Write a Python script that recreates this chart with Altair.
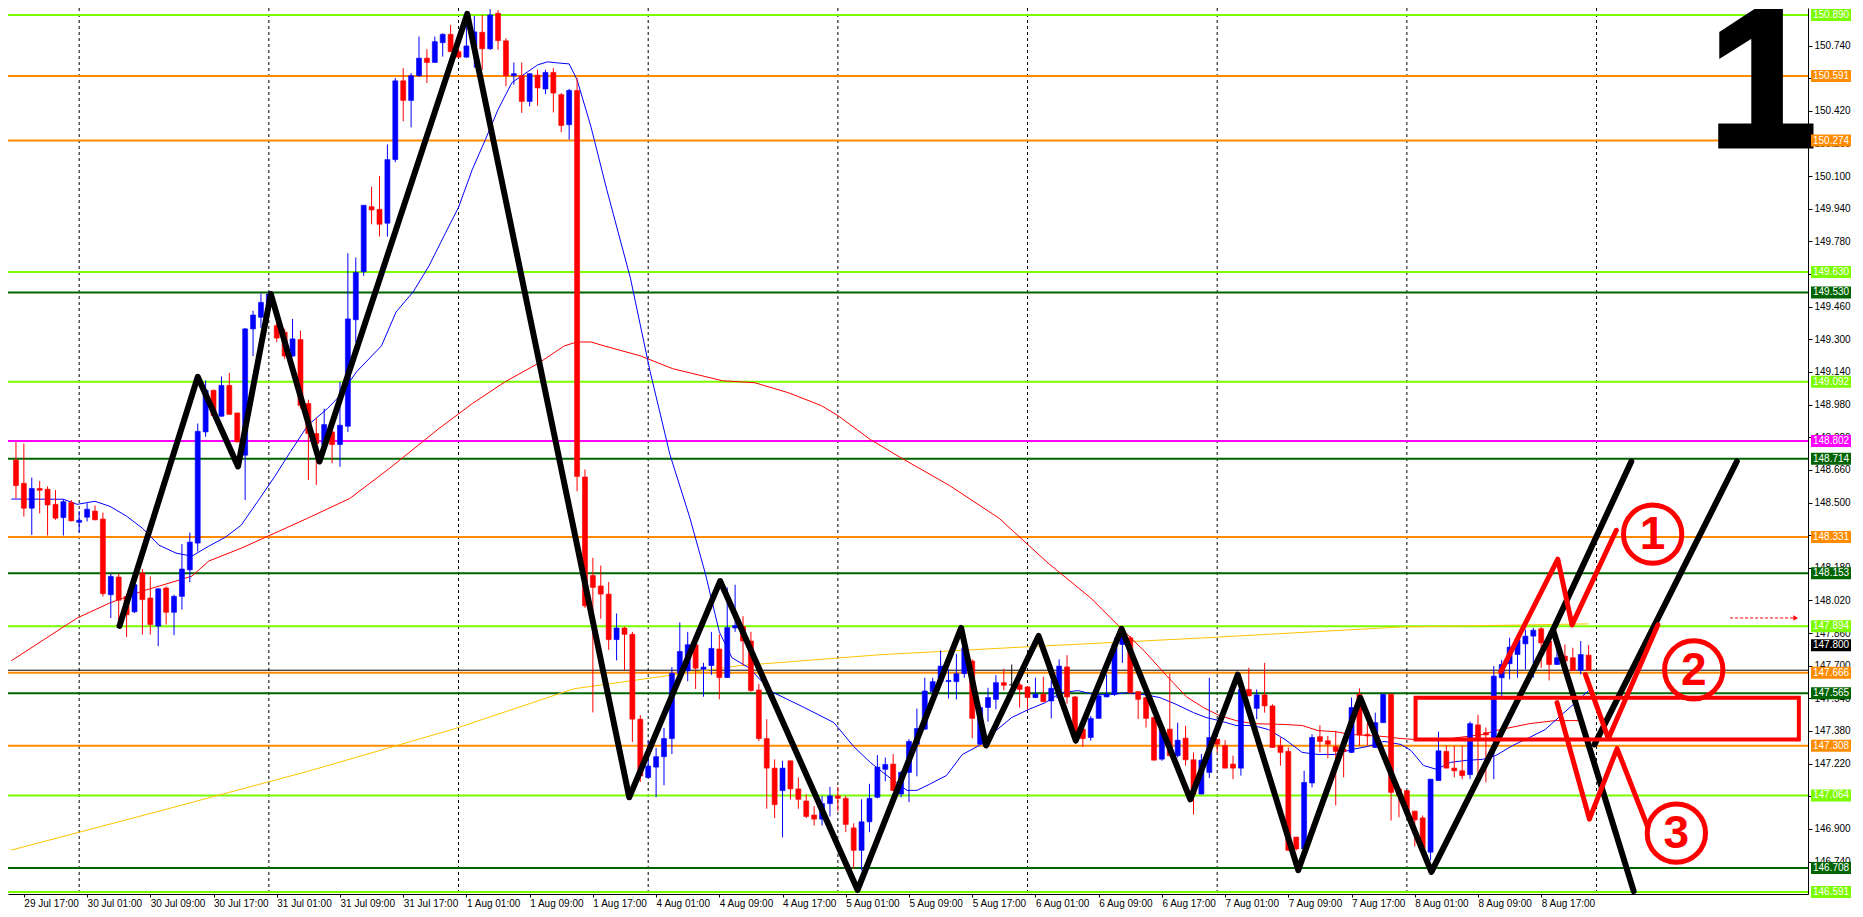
import altair as alt
import pandas as pd

# ---------------- candle data (one entry per hourly bar) ----------------
opens = [
148.708, 148.594, 148.472, 148.569, 148.565, 148.491, 148.426, 148.500, 148.403, 148.428,
148.458, 148.419, 148.048, 148.135, 148.040, 147.964, 148.154, 148.032, 147.894, 148.081,
147.962, 148.040, 148.170, 148.301, 148.846, 149.050, 148.923, 149.074, 148.939, 148.732,
149.351, 149.408, 149.473, 149.367, 149.335, 149.218, 149.299, 148.985, 148.838, 148.784,
148.846, 148.784, 148.874, 149.396, 149.631, 149.950, 149.937, 149.869, 150.181, 150.567,
150.471, 150.592, 150.678, 150.657, 150.754, 150.795, 150.710, 150.683, 150.733, 150.805,
150.724, 150.898, 150.763, 150.592, 150.592, 150.466, 150.595, 150.527, 150.608, 150.499,
150.352, 150.520, 148.625, 148.142, 148.091, 148.051, 147.828, 147.885, 147.854, 147.438,
147.152, 147.203, 147.254, 147.343, 147.663, 147.675, 147.803, 147.683, 147.701, 147.782,
147.642, 147.885, 147.892, 147.821, 147.581, 147.343, 147.198, 147.088, 147.234, 147.096,
147.037, 146.968, 146.948, 147.024, 147.062, 147.050, 146.905, 146.795, 146.935, 147.055,
147.192, 147.218, 147.071, 147.177, 147.315, 147.389, 147.573, 147.622, 147.622, 147.622,
147.661, 147.723, 147.315, 147.495, 147.535, 147.617, 147.606, 147.606, 147.596, 147.544,
147.560, 147.527, 147.544, 147.694, 147.547, 147.389, 147.348, 147.442, 147.547, 147.560,
147.804, 147.837, 147.573, 147.544, 147.446, 147.242, 147.389, 147.259, 147.345, 147.239,
147.071, 147.177, 147.340, 147.308, 147.218, 147.198, 147.584, 147.491, 147.557, 147.503,
147.308, 147.280, 146.860, 146.802, 147.125, 147.352, 147.332, 147.303, 147.291, 147.275,
147.560, 147.364, 147.299, 147.421, 147.560, 147.096, 147.088, 146.987, 146.954, 146.786,
147.137, 147.280, 147.198, 147.185, 147.166, 147.410, 147.372, 147.332, 147.641, 147.710,
147.755, 147.807, 147.845, 147.881, 147.821, 147.706, 147.747, 147.739, 147.677, 147.752,
]
highs = [
148.797, 148.789, 148.622, 148.605, 148.579, 148.561, 148.516, 148.512, 148.458, 148.496,
148.485, 148.451, 148.151, 148.151, 148.052, 148.140, 148.174, 148.138, 148.081, 148.089,
148.048, 148.296, 148.353, 148.887, 149.098, 149.053, 149.118, 149.135, 148.939, 149.356,
149.440, 149.525, 149.533, 149.400, 149.351, 149.400, 149.343, 149.004, 148.916, 148.960,
148.872, 149.091, 149.722, 149.701, 149.957, 150.048, 150.100, 150.255, 150.581, 150.629,
150.605, 150.784, 150.722, 150.784, 150.800, 150.841, 150.763, 150.895, 150.885, 150.890,
150.918, 150.914, 150.776, 150.657, 150.657, 150.605, 150.621, 150.621, 150.629, 150.507,
150.527, 150.581, 148.662, 148.229, 148.191, 148.110, 147.956, 147.892, 147.866, 147.458,
147.331, 147.297, 147.395, 147.693, 147.912, 147.866, 147.828, 147.714, 147.866, 147.854,
148.084, 148.097, 147.943, 147.866, 147.611, 147.438, 147.241, 147.234, 147.234, 147.152,
147.070, 147.012, 147.062, 147.106, 147.106, 147.062, 146.928, 147.045, 147.121, 147.262,
147.250, 147.267, 147.185, 147.340, 147.490, 147.641, 147.641, 147.775, 147.682, 147.758,
147.837, 147.731, 147.503, 147.592, 147.654, 147.685, 147.706, 147.617, 147.601, 147.641,
147.646, 147.628, 147.731, 147.752, 147.552, 147.413, 147.454, 147.560, 147.657, 147.837,
147.885, 147.845, 147.576, 147.547, 147.449, 147.413, 147.661, 147.421, 147.405, 147.275,
147.267, 147.641, 147.340, 147.335, 147.259, 147.601, 147.690, 147.584, 147.714, 147.511,
147.348, 147.299, 146.860, 147.185, 147.364, 147.408, 147.356, 147.381, 147.315, 147.544,
147.589, 147.421, 147.470, 147.560, 147.560, 147.104, 147.088, 146.990, 146.966, 147.144,
147.377, 147.308, 147.308, 147.308, 147.426, 147.459, 147.397, 147.698, 147.729, 147.837,
147.856, 147.877, 147.885, 147.889, 147.869, 147.812, 147.804, 147.788, 147.821, 147.801,
]
lows = [
148.520, 148.431, 148.341, 148.447, 148.338, 148.415, 148.338, 148.408, 148.354, 148.407,
148.413, 148.040, 147.934, 147.885, 147.840, 147.959, 147.853, 147.853, 147.796, 147.902,
147.850, 147.975, 148.109, 148.260, 148.822, 148.926, 148.920, 148.931, 148.794, 148.512,
149.218, 149.356, 149.458, 149.286, 149.204, 149.214, 148.960, 148.610, 148.586, 148.779,
148.692, 148.675, 148.846, 149.286, 149.611, 149.864, 149.804, 149.804, 150.168, 150.369,
150.339, 150.587, 150.556, 150.655, 150.686, 150.709, 150.680, 150.680, 150.631, 150.621,
150.719, 150.719, 150.540, 150.548, 150.410, 150.442, 150.445, 150.502, 150.412, 150.315,
150.279, 148.555, 147.983, 147.471, 147.930, 147.778, 147.726, 147.675, 147.326, 147.130,
147.148, 147.055, 147.114, 147.267, 147.661, 147.624, 147.586, 147.548, 147.655, 147.535,
147.641, 147.866, 147.701, 147.573, 147.331, 146.999, 146.953, 146.859, 147.045, 146.999,
146.953, 146.917, 146.917, 146.961, 146.986, 146.884, 146.705, 146.697, 146.884, 147.050,
147.133, 147.087, 147.055, 147.031, 147.158, 147.387, 147.535, 147.606, 147.540, 147.535,
147.641, 147.345, 147.314, 147.426, 147.486, 147.579, 147.584, 147.495, 147.486, 147.541,
147.521, 147.442, 147.541, 147.514, 147.332, 147.303, 147.332, 147.441, 147.546, 147.552,
147.714, 147.565, 147.438, 147.397, 147.236, 147.234, 147.258, 147.250, 147.210, 146.971,
147.069, 147.149, 147.275, 147.197, 147.144, 147.161, 147.551, 147.438, 147.470, 147.297,
147.210, 146.794, 146.795, 146.801, 147.104, 147.275, 147.247, 147.015, 147.153, 147.272,
147.308, 147.308, 147.297, 147.419, 146.941, 146.957, 146.989, 146.814, 146.801, 146.746,
147.136, 147.197, 147.153, 147.144, 147.144, 147.128, 147.128, 147.144, 147.544, 147.633,
147.641, 147.682, 147.641, 147.690, 147.628, 147.705, 147.650, 147.675, 147.657, 147.675,
]
closes = [
148.583, 148.472, 148.569, 148.560, 148.488, 148.423, 148.504, 148.410, 148.413, 148.467,
148.415, 148.053, 148.138, 148.021, 147.950, 148.097, 148.024, 147.902, 148.077, 147.962,
148.040, 148.174, 148.306, 148.849, 149.050, 148.927, 149.074, 148.932, 148.797, 149.351,
149.419, 149.481, 149.522, 149.306, 149.218, 149.302, 148.976, 148.838, 148.789, 148.882,
148.784, 148.879, 149.400, 149.628, 149.957, 149.934, 149.864, 150.181, 150.567, 150.471,
150.592, 150.678, 150.657, 150.759, 150.795, 150.710, 150.683, 150.738, 150.807, 150.724,
150.890, 150.764, 150.592, 150.602, 150.466, 150.602, 150.532, 150.608, 150.507, 150.348,
150.520, 148.628, 147.994, 148.084, 148.051, 147.828, 147.885, 147.854, 147.438, 147.160,
147.208, 147.254, 147.343, 147.663, 147.770, 147.803, 147.688, 147.693, 147.785, 147.642,
147.887, 147.897, 147.821, 147.578, 147.343, 147.198, 147.019, 147.198, 147.096, 147.045,
146.961, 146.948, 147.024, 147.062, 147.050, 146.922, 146.795, 146.935, 147.050, 147.203,
147.216, 147.088, 147.177, 147.329, 147.392, 147.576, 147.622, 147.698, 147.628, 147.661,
147.788, 147.442, 147.495, 147.544, 147.617, 147.604, 147.606, 147.584, 147.544, 147.560,
147.524, 147.589, 147.698, 147.547, 147.348, 147.343, 147.442, 147.552, 147.560, 147.804,
147.861, 147.568, 147.535, 147.442, 147.237, 147.397, 147.259, 147.335, 147.239, 147.071,
147.237, 147.348, 147.315, 147.198, 147.198, 147.584, 147.552, 147.557, 147.503, 147.299,
147.275, 146.795, 146.802, 147.128, 147.348, 147.329, 147.315, 147.280, 147.280, 147.495,
147.361, 147.356, 147.421, 147.560, 147.079, 147.063, 146.990, 146.944, 146.802, 147.144,
147.283, 147.198, 147.185, 147.161, 147.416, 147.348, 147.361, 147.649, 147.706, 147.791,
147.828, 147.845, 147.874, 147.812, 147.706, 147.739, 147.723, 147.677, 147.755, 147.677,
]

# ---------------- moving averages ----------------
ma_fast_x = [-0.6, 6, 7.75, 10, 11.9, 14, 16, 18.1, 20.25, 22.25, 24.4, 26.5, 28.5, 30.6, 32.75,
             34.75, 36.9, 39.4, 41, 43.1, 46.25, 48.1, 50.25, 52.25, 54.4, 56, 57.75, 59.4, 61,
             62.75, 64.4, 66, 67.25, 68.5, 70, 71, 72.75, 74.75, 77.75, 80.25, 82.75, 85.25,
             87.25, 89, 90.6, 92.75, 95.6, 99.75, 103.5, 106, 108.1, 111, 112.75, 114, 115.6,
             117.75, 119.75, 121.9, 124, 126, 128.1, 130.25, 132.25, 134.4, 136.5, 138.5, 140.6,
             142.75, 144.75, 146.9, 149, 150.6, 152.25, 154.4, 156.5, 158.5, 160.6, 162.75,
             164.75, 166.9, 169, 171, 173.1, 175.25, 176.5, 178.1, 179.75, 181.5, 183.5, 185.6,
             187.25, 189.4, 191.5, 193.5, 195.6, 197.75, 199]
ma_fast_y = [148.517, 148.516, 148.491, 148.506, 148.481, 148.433, 148.374, 148.291, 148.252, 148.237,
             148.286, 148.330, 148.389, 148.506, 148.628, 148.750, 148.877, 148.960, 149.024, 149.141,
             149.268, 149.434, 149.532, 149.659, 149.825, 149.947, 150.133, 150.279, 150.426, 150.558,
             150.602, 150.645, 150.660, 150.655, 150.650, 150.572, 150.343, 150.035, 149.600, 149.141,
             148.735, 148.428, 148.149, 147.866, 147.739, 147.690, 147.573, 147.495, 147.421, 147.304,
             147.226, 147.138, 147.089, 147.089, 147.119, 147.162, 147.265, 147.309, 147.382, 147.446,
             147.485, 147.519, 147.568, 147.578, 147.558, 147.558, 147.568, 147.558, 147.544, 147.509,
             147.470, 147.446, 147.431, 147.407, 147.407, 147.387, 147.338, 147.275, 147.265, 147.265,
             147.289, 147.304, 147.329, 147.314, 147.285, 147.211, 147.192, 147.226, 147.236, 147.241,
             147.260, 147.309, 147.348, 147.387, 147.460, 147.534, 147.578]
ma_mid_x = [-0.6, 3.5, 7.75, 11.9, 16, 20.25, 22.25, 24.4, 28.5, 32.75, 36.9, 42.25, 47.25, 53.5,
            57.75, 61.9, 66, 69.4, 71, 72.75, 74.4, 79, 83.1, 89.4, 93.5, 97.75, 101.9, 104, 108.1,
            111.9, 118.1, 124.4, 130.6, 136, 139.4, 142.75, 145.6, 148.1, 150.25, 152.25, 154.4,
            156.5, 160.6, 162.75, 164.75, 166.9, 169, 171, 173.1, 175.25, 177.25, 181.5, 185.6,
            187.25, 191.5, 194.75, 198.4]
ma_mid_y = [147.724, 147.827, 147.934, 148.008, 148.066, 148.115, 148.139, 148.213, 148.276, 148.350,
            148.423, 148.520, 148.667, 148.862, 148.985, 149.092, 149.180, 149.268, 149.287, 149.287,
            149.268, 149.219, 149.156, 149.097, 149.087, 149.038, 148.975, 148.926, 148.809, 148.721,
            148.584, 148.423, 148.203, 148.032, 147.900, 147.773, 147.651, 147.548, 147.495, 147.456,
            147.431, 147.416, 147.412, 147.407, 147.382, 147.377, 147.363, 147.358, 147.353, 147.343,
            147.338, 147.343, 147.363, 147.382, 147.416, 147.431, 147.431]
ma_slow_x = [-0.6, 18.1, 36.9, 55.6, 70.6, 91.5, 109.4, 128.1, 150.6, 175.25, 199]
ma_slow_y = [146.796, 146.987, 147.182, 147.392, 147.587, 147.700, 147.754, 147.793, 147.837, 147.890, 147.905]

# ---------------- zigzag & hand-drawn annotations ----------------
zz_x = [13.1, 23, 28.1, 32.25, 38.4, 57.1, 77.6, 89.1, 106.5, 119.6, 122.75, 129.4, 134.1,
        139.9, 148.6, 154.6, 162.25, 170.1, 179.1, 194.5, 204.7]
zz_y = [147.895, 149.116, 148.677, 149.522, 148.701, 150.895, 147.055, 148.115, 146.601, 147.885,
        147.309, 147.846, 147.333, 147.881, 147.045, 147.656, 146.698, 147.543, 146.689, 147.876,
        146.595]
proj_seg = ["a", "a", "c", "c"]
proj_x = [194.5, 204.4, 199.75, 217.75]
proj_y = [147.876, 148.701, 147.314, 148.701]

red_seg = ["r1", "r1", "r1", "r1", "r2", "r2", "r2", "r3", "r3", "r3", "r3"]
red_x = [187.9, 195.1, 196.9, 202.5, 198.6, 201.5, 207.75, 195.0, 199.1, 202.6, 206.5]
red_y = [147.671, 148.222, 147.900, 148.364, 147.656, 147.343, 147.900, 147.519, 146.948,
         147.294, 146.908]
circle_labels = ["1", "2", "3"]
circle_x = [207.1, 212.3, 210.1]
circle_y = [148.345, 147.680, 146.879]
box_x = [177.1, 225.6]
box_y = [147.338, 147.543]
arrow_x = [216.9, 225.2]
arrow_y = 147.934

# ---------------- horizontal levels ----------------
level_prices = [150.890, 150.591, 150.274, 149.630, 149.530, 149.092, 148.802, 148.714, 148.331,
                148.153, 147.894, 147.666, 147.565, 147.308, 147.064, 146.708, 146.591]
level_kinds = ["lime", "orange", "orange", "lime", "dkgreen", "lime", "magenta", "dkgreen", "orange",
               "dkgreen", "lime", "orange", "dkgreen", "orange", "lime", "dkgreen", "lime"]
bid_line = 147.678
bid_label = 147.800

# ---------------- axes ----------------
time_labels = ["29 Jul 17:00", "30 Jul 01:00", "30 Jul 09:00", "30 Jul 17:00", "31 Jul 01:00",
               "31 Jul 09:00", "31 Jul 17:00", "1 Aug 01:00", "1 Aug 09:00", "1 Aug 17:00",
               "4 Aug 01:00", "4 Aug 09:00", "4 Aug 17:00", "5 Aug 01:00", "5 Aug 09:00",
               "5 Aug 17:00", "6 Aug 01:00", "6 Aug 09:00", "6 Aug 17:00", "7 Aug 01:00",
               "7 Aug 09:00", "7 Aug 17:00", "8 Aug 01:00", "8 Aug 09:00", "8 Aug 17:00"]
time_label_bars = [1, 9, 17, 25, 33, 41, 49, 57, 65, 73, 81, 89, 97, 105, 113, 121, 129, 137,
                   145, 153, 161, 169, 177, 185, 193]
day_sep_bars = [8, 32, 56, 80, 104, 128, 152, 176, 200]
price_ticks = [146.740, 146.900, 147.060, 147.220, 147.380, 147.540, 147.700, 147.860, 148.020,
               148.180, 148.340, 148.500, 148.660, 148.820, 148.980, 149.140, 149.300, 149.460,
               149.620, 149.780, 149.940, 150.100, 150.260, 150.420, 150.580, 150.740]

# ================= build chart =================
W, H = 1800, 886
FONT = "Liberation Sans"
xs = alt.Scale(domain=[-0.375, 226.125], nice=False, zero=False)
ys = alt.Scale(domain=[146.581, 150.924], nice=False, zero=False)

label_js = "[" + ",".join("'%s'" % s for s in time_labels) + "]"
x_axis = alt.Axis(values=time_label_bars, labelExpr=label_js + "[round((datum.value - 1) / 8)]",
                  title=None, orient="bottom", labelAlign="left", labelBaseline="top",
                  labelPadding=1, tickSize=3, tickColor="black", domainColor="black",
                  labelColor="black", labelFont=FONT, labelFontSize=10, grid=False,
                  labelOverlap=False, labelFlush=False)
y_axis = alt.Axis(values=price_ticks, format=".3f", title=None, orient="right", tickSize=4,
                  tickColor="black", domainColor="black", labelColor="black", labelFont=FONT,
                  labelFontSize=10, labelPadding=2, grid=False, labelOverlap=False)


def X(f):
    return alt.X(f + ":Q", scale=xs, axis=x_axis)


def Y(f):
    return alt.Y(f + ":Q", scale=ys, axis=y_axis)


dir_colors = {"up": "#0000FF", "down": "#FF0000", "flat": "#000000"}
level_colors = {"lime": "#7CFC00", "orange": "#FF8C00", "dkgreen": "#006400", "magenta": "#FF00FF"}

candles = pd.DataFrame({"bar": list(range(len(opens))), "open": opens, "high": highs,
                        "low": lows, "close": closes})
candles["col"] = [dir_colors["up" if c > o else ("down" if c < o else "flat")]
                  for o, c in zip(opens, closes)]
levels = pd.DataFrame({"price": level_prices, "kind": level_kinds})
levels["col"] = [level_colors[k] for k in level_kinds]

grid = alt.Chart(pd.DataFrame({"bar": day_sep_bars})).mark_rule(
    color="black", strokeWidth=1, strokeDash=[3, 3]).encode(x=X("bar"))

level_rules = alt.Chart(levels).mark_rule(strokeWidth=2).encode(
    y=Y("price"), color=alt.Color("col:N", scale=None))

bid_rule = alt.Chart(pd.DataFrame({"price": [bid_line]})).mark_rule(
    color="black", strokeWidth=1).encode(y=Y("price"))

ma_slow = alt.Chart(pd.DataFrame({"x": ma_slow_x, "y": ma_slow_y})).mark_line(
    color="#FFC400", strokeWidth=1).encode(x=X("x"), y=Y("y"))
ma_mid = alt.Chart(pd.DataFrame({"x": ma_mid_x, "y": ma_mid_y})).mark_line(
    color="#FF0000", strokeWidth=1).encode(x=X("x"), y=Y("y"))
ma_fast = alt.Chart(pd.DataFrame({"x": ma_fast_x, "y": ma_fast_y})).mark_line(
    color="#0000FF", strokeWidth=1).encode(x=X("x"), y=Y("y"))

wicks = alt.Chart(candles).mark_rule(strokeWidth=1).encode(
    x=X("bar"), y=Y("low"), y2="high", color=alt.Color("col:N", scale=None))
bodies = alt.Chart(candles).mark_bar(size=5, strokeWidth=0.6).encode(
    x=X("bar"), y=Y("open"), y2="close",
    color=alt.Color("col:N", scale=None), stroke=alt.Stroke("col:N", scale=None))

zz_df = pd.DataFrame({"x": zz_x, "y": zz_y, "i": list(range(len(zz_x)))})
zigzag = alt.Chart(zz_df).mark_line(color="black", strokeWidth=6, strokeCap="round",
                                    strokeJoin="round").encode(x=X("x"), y=Y("y"), order="i:Q")
proj_df = pd.DataFrame({"x": proj_x, "y": proj_y, "seg": proj_seg, "i": list(range(len(proj_x)))})
proj = alt.Chart(proj_df).mark_line(color="black", strokeWidth=6, strokeCap="round").encode(
    x=X("x"), y=Y("y"), detail="seg:N", order="i:Q")

red_df = pd.DataFrame({"x": red_x, "y": red_y, "seg": red_seg, "i": list(range(len(red_x)))})
red_lines = alt.Chart(red_df).mark_line(color="#FF0000", strokeWidth=5, strokeCap="round",
                                        strokeJoin="round").encode(
    x=X("x"), y=Y("y"), detail="seg:N", order="i:Q")

box = alt.Chart(pd.DataFrame({"x1": [box_x[0]], "x2": [box_x[1]], "y1": [box_y[0]],
                              "y2": [box_y[1]]})).mark_rect(
    fillOpacity=0, stroke="#FF0000", strokeWidth=4).encode(
    x=X("x1"), x2="x2", y=Y("y1"), y2="y2")

circ_df = pd.DataFrame({"x": circle_x, "y": circle_y, "t": circle_labels})
circles = alt.Chart(circ_df).mark_point(shape="circle", filled=False, size=3400, strokeWidth=5,
                                        color="#FF0000", opacity=1).encode(x=X("x"), y=Y("y"))
circ_text = alt.Chart(circ_df).mark_text(font=FONT, fontSize=46, fontWeight="bold",
                                         color="#FF0000", align="center",
                                         baseline="middle", dy=1).encode(
    x=X("x"), y=Y("y"), text="t:N")

arrow_df = pd.DataFrame({"x1": [arrow_x[0]], "x2": [arrow_x[1]], "y": [arrow_y]})
arrow_line = alt.Chart(arrow_df).mark_rule(color="#FF0000", strokeWidth=1,
                                           strokeDash=[3, 2]).encode(
    x=X("x1"), x2="x2", y=Y("y"))
arrow_head = alt.Chart(arrow_df).mark_point(shape="triangle-right", filled=True, size=30,
                                            color="#FF0000", opacity=1).encode(
    x=X("x2"), y=Y("y"))

big_one = alt.Chart(pd.DataFrame({"x": [221.0], "y": [150.248], "t": ["1"]})).mark_text(
    font=FONT, fontSize=194, fontWeight="bold", color="black", stroke="black", strokeWidth=5,
    strokeJoin="miter", align="center", baseline="alphabetic").encode(
    x=X("x"), y=Y("y"), text="t:N")

lab_boxes = alt.Chart(levels).mark_rect(yOffset=-6, y2Offset=6).encode(
    x=alt.value(W + 3), x2=alt.value(W + 43), y=Y("price"), y2="price:Q",
    color=alt.Color("col:N", scale=None))
lab_text = alt.Chart(levels).mark_text(font=FONT, fontSize=10, color="white", align="left",
                                       baseline="middle").encode(
    x=alt.value(W + 5), y=Y("price"), text=alt.Text("price:Q", format=".3f"))
bid_df = pd.DataFrame({"price": [bid_label]})
bid_box = alt.Chart(bid_df).mark_rect(yOffset=-6, y2Offset=6, color="black").encode(
    x=alt.value(W + 3), x2=alt.value(W + 43), y=Y("price"), y2="price:Q")
bid_text = alt.Chart(bid_df).mark_text(font=FONT, fontSize=10, color="white", align="left",
                                       baseline="middle").encode(
    x=alt.value(W + 5), y=Y("price"), text=alt.Text("price:Q", format=".3f"))

chart = alt.layer(
    grid, level_rules, bid_rule, ma_slow, ma_mid, ma_fast, wicks, bodies,
    zigzag, proj, red_lines, box, circles, circ_text, arrow_line, arrow_head, big_one,
    lab_boxes, lab_text, bid_box, bid_text
).properties(
    width=W, height=H,
    padding={"left": 0, "top": 0, "right": 47, "bottom": 16},
    autosize=alt.AutoSizeParams(type="none"),
    background="white",
).configure_view(stroke=None)

chart.save("out.html", embed_options={"renderer": "svg", "actions": False})
